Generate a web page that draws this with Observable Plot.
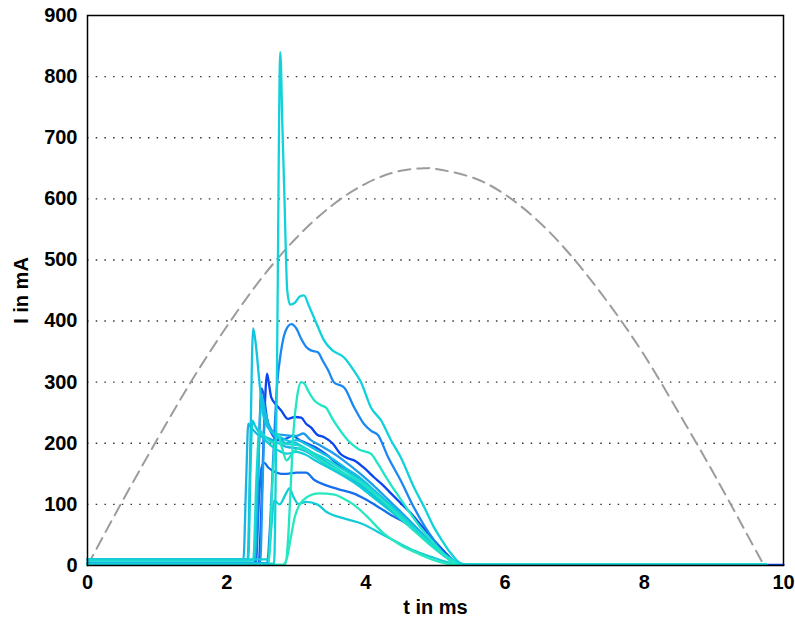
<!DOCTYPE html>
<html><head><meta charset="utf-8">
<script src="https://cdn.jsdelivr.net/npm/d3@7"></script>
<script src="https://cdn.jsdelivr.net/npm/@observablehq/plot@0.6"></script>
<style>body{margin:0;background:#fff}</style>
</head><body><div id="chart"></div>
<script>
// ---- data (t in ms, I in mA) ----
const xTicks = [0, 2, 4, 6, 8, 10];
const yTicks = [0, 100, 200, 300, 400, 500, 600, 700, 800, 900];
const gridTicks = [100, 200, 300, 400, 500, 600, 700, 800];

const supply = [[0,0],[0.5,105],[1,206],[1.5,303],[2,391],[2.5,470],[3,536],[3.5,588],[4,625],[4.5,646],[4.86,650],[5,649],[5.5,636],[6,607],[6.5,561],[7,500],[7.5,427],[8,344],[8.5,249],[9,150],[9.5,46],[9.72,0]];

const tr01 = [[0,3],[2.68,3],[2.72,300],[2.77,840],[2.80,720],[2.83,600],[2.87,450],[2.91,427],[2.98,430],[3.05,440],[3.11,442],[3.18,425],[3.29,396],[3.40,368],[3.52,352],[3.69,340],[3.82,320],[3.93,300],[4.07,259],[4.22,237],[4.36,205],[4.50,177],[4.69,128],[4.84,95],[4.98,62],[5.10,40],[5.22,20],[5.37,3],[5.50,1],[9.75,1]];
const tr02 = [[0,4],[2.58,4],[2.62,60],[2.67,180],[2.72,290],[2.78,350],[2.85,385],[2.93,395],[3.00,388],[3.07,371],[3.14,358],[3.21,352],[3.31,349],[3.38,335],[3.46,319],[3.54,300],[3.69,291],[3.83,259],[3.97,232],[4.08,220],[4.17,214],[4.32,177],[4.50,139],[4.69,95],[4.84,65],[4.98,41],[5.12,20],[5.27,3],[5.40,1],[9.75,1]];
const tr03 = [[0,1],[2.84,1],[2.88,40],[2.92,130],[2.96,220],[3.01,275],[3.07,300],[3.12,297],[3.17,286],[3.26,270],[3.36,262],[3.43,258],[3.52,240],[3.60,226],[3.74,205],[3.90,190],[4.07,183],[4.18,165],[4.32,139],[4.46,115],[4.61,90],[4.80,60],[4.98,36],[5.12,18],[5.27,3],[5.40,1],[9.75,1]];
const tr04 = [[0,4],[2.46,4],[2.50,100],[2.54,240],[2.58,314],[2.61,295],[2.64,275],[2.72,262],[2.78,254],[2.88,240],[2.98,243],[3.07,242],[3.14,232],[3.21,226],[3.30,214],[3.40,210],[3.52,200],[3.64,182],[3.75,175],[3.83,172],[3.97,160],[4.12,144],[4.24,132],[4.36,118],[4.50,102],[4.65,85],[4.82,62],[4.98,41],[5.15,20],[5.32,3],[5.45,1],[10,1]];
const tr05 = [[0,3],[2.40,3],[2.44,100],[2.47,220],[2.50,290],[2.53,280],[2.58,240],[2.65,215],[2.75,205],[2.86,208],[2.95,212],[3.05,205],[3.15,200],[3.30,192],[3.45,180],[3.60,165],[3.80,150],[4.00,132],[4.20,112],[4.40,92],[4.60,70],[4.80,48],[5.00,28],[5.18,12],[5.35,2],[5.45,1],[9.75,1]];
const tr06 = [[0,4],[2.42,4],[2.46,100],[2.50,160],[2.54,168],[2.60,160],[2.70,153],[2.78,150],[2.86,150],[3.00,152],[3.14,152],[3.26,140],[3.43,131],[3.60,125],[3.82,118],[4.00,108],[4.19,95],[4.40,80],[4.58,69],[4.78,50],[4.98,30],[5.15,14],[5.30,4],[5.42,1],[9.75,1]];
const tr07 = [[0,10],[2.30,10],[2.34,200],[2.38,388],[2.42,360],[2.47,300],[2.52,250],[2.58,228],[2.70,215],[2.86,205],[3.00,200],[3.20,187],[3.40,172],[3.60,157],[3.80,142],[4.00,126],[4.20,106],[4.40,86],[4.60,68],[4.80,48],[5.00,28],[5.20,12],[5.38,2],[5.50,1],[9.75,1]];
const tr08 = [[0,10],[2.24,10],[2.28,140],[2.31,232],[2.35,226],[2.45,214],[2.60,208],[2.75,200],[2.86,194],[3.00,192],[3.15,186],[3.30,175],[3.50,160],[3.70,146],[3.90,132],[4.10,115],[4.30,96],[4.50,78],[4.70,58],[4.90,38],[5.10,20],[5.28,6],[5.42,1],[9.75,1]];
const tr09 = [[0,9],[2.31,9],[2.34,150],[2.37,237],[2.41,228],[2.50,212],[2.65,195],[2.78,186],[2.86,183],[3.00,186],[3.12,182],[3.30,170],[3.50,158],[3.70,145],[3.90,130],[4.10,112],[4.30,94],[4.50,76],[4.70,57],[4.90,38],[5.10,20],[5.30,5],[5.45,1],[9.75,1]];
const tr10 = [[0,8],[2.38,8],[2.43,150],[2.47,222],[2.52,215],[2.65,202],[2.86,199],[3.05,196],[3.20,186],[3.40,176],[3.60,162],[3.80,148],[4.00,132],[4.20,112],[4.40,92],[4.60,72],[4.80,50],[5.00,30],[5.20,12],[5.38,2],[5.50,1],[9.75,1]];
const tr11 = [[0,3],[2.48,3],[2.52,150],[2.55,250],[2.60,232],[2.70,216],[2.86,213],[3.00,212],[3.10,216],[3.20,206],[3.35,196],[3.50,186],[3.70,170],[3.90,152],[4.10,132],[4.30,110],[4.50,88],[4.70,65],[4.90,42],[5.10,22],[5.30,6],[5.45,1],[9.75,1]];
const tr12 = [[0,2],[2.60,2],[2.65,120],[2.70,205],[2.74,215],[2.80,190],[2.86,172],[2.95,185],[3.05,192],[3.15,188],[3.30,176],[3.50,162],[3.70,150],[3.90,138],[4.10,120],[4.30,100],[4.50,78],[4.70,56],[4.90,36],[5.10,18],[5.30,5],[5.45,1],[9.75,1]];
const tr13 = [[0,9],[2.40,9],[2.45,150],[2.50,278],[2.55,252],[2.62,222],[2.75,208],[2.86,200],[3.00,205],[3.15,198],[3.30,188],[3.50,176],[3.70,160],[3.90,145],[4.10,125],[4.30,105],[4.50,85],[4.70,62],[4.90,40],[5.10,20],[5.30,5],[5.45,1],[9.75,1]];
const tr14 = [[0,1],[2.80,1],[2.86,10],[2.92,45],[2.98,80],[3.04,98],[3.14,111],[3.33,118],[3.55,116],[3.70,108],[3.82,100],[4.00,82],[4.26,52],[4.50,33],[4.74,20],[5.00,8],[5.22,2],[5.40,1],[9.75,1]];
const tr15 = [[0,10],[2.60,10],[2.64,60],[2.68,106],[2.76,100],[2.84,115],[2.90,126],[2.96,112],[3.03,101],[3.14,104],[3.30,100],[3.43,88],[3.72,76],[3.95,68],[4.22,52],[4.45,38],[4.70,24],[4.94,14],[5.15,6],[5.32,1],[9.75,1]];

// drawing order (first drawn at bottom)
const traceNames = ["tr04","tr05","tr06","tr02","tr11","tr13","tr08","tr07","tr09","tr15","tr10","tr12","tr03","tr14","tr01"];
const traceList  = [tr04, tr05, tr06, tr02, tr11, tr13, tr08, tr07, tr09, tr15, tr10, tr12, tr03, tr14, tr01];
const palette    = ["#0A46F0","#1260F2","#1670EE","#1A88F2","#1E9CEE","#14BEE2","#18B2E6","#12C4DE","#0FCCD8","#14CCD8","#16D8D0","#22E2C6","#1EE6C6","#28E8C0","#10D2DA"];

const rows = traceList.flatMap((tr, i) => tr.map(([t, I]) => ({id: traceNames[i], t, I})));
const supplyRows = supply.map(([t, I]) => ({t, I}));

const chart = Plot.plot({
  width: 795, height: 620,
  marginLeft: 87, marginRight: 12, marginTop: 15, marginBottom: 55,
  style: {fontFamily: "'Liberation Sans', Arial, Helvetica, sans-serif", fontSize: "20px", fontWeight: "bold", background: "#fff", color: "#000"},
  x: {domain: [0, 10]},
  y: {domain: [0, 900]},
  color: {domain: traceNames, range: palette},
  marks: [
    Plot.ruleY(gridTicks, {stroke: "#333", strokeWidth: 1.4, strokeDasharray: "1.5,7.2"}),
    Plot.line(supplyRows, {x: "t", y: "I", stroke: "#9c9c9c", strokeWidth: 2, strokeDasharray: "12,7", curve: "natural"}),
    Plot.line(rows, {x: "t", y: "I", z: "id", stroke: "id", strokeWidth: 2.3, curve: "monotone-x"}),
    Plot.frame({stroke: "#000", strokeWidth: 1.5}),
    Plot.axisY(yTicks, {tickSize: 0, tickPadding: 10, label: "I in mA", labelAnchor: "center", labelOffset: 74, labelArrow: "none"}),
    Plot.axisX(xTicks, {tickSize: 0, tickPadding: 9, label: "t in ms", labelAnchor: "center", labelOffset: 48, labelArrow: "none"})
  ]
});
document.getElementById("chart").appendChild(chart);
</script>
</body></html>
